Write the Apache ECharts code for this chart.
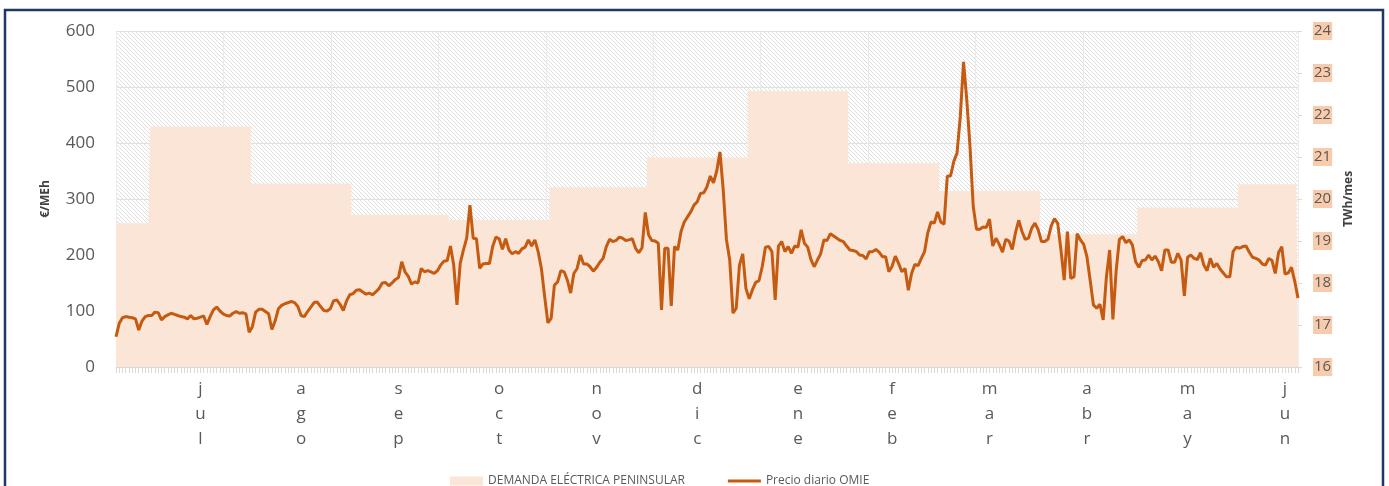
<!DOCTYPE html>
<html>
<head>
<meta charset="utf-8">
<script src="https://cdn.jsdelivr.net/npm/echarts@6/dist/echarts.min.js"></script>
<style>
html, body { margin: 0; padding: 0; background: #fff; }
#chart { width: 1389px; height: 486px; }
</style>
</head>
<body>
<div id="chart"></div>
<script>
// precio diario OMIE (€/MWh), un array por mes, desde el 20/06/2021
var startDate = '2021-06-20';
var priceJun21 = [54, 78, 88, 90, 89, 88, 86, 66, 82, 90, 92];
var priceJul21 = [92, 98, 97, 84, 90, 93, 96, 94, 92, 90, 89, 86, 92, 86, 87, 89, 91, 76, 90, 102, 107, 100, 95, 92, 91, 96, 99, 96, 97, 95, 62];
var priceAgo21 = [72, 98, 103, 103, 99, 95, 67, 82, 104, 110, 113, 115, 117, 115, 108, 92, 90, 99, 107, 115, 116, 108, 101, 100, 104, 118, 120, 112, 101, 118, 129];
var priceSep21 = [131, 137, 138, 134, 130, 132, 129, 134, 140, 150, 151, 145, 150, 156, 160, 188, 170, 162, 148, 152, 150, 176, 170, 172, 170, 167, 172, 182, 189, 190];
var priceOct21 = [216, 182, 111, 185, 209, 230, 289, 230, 229, 176, 184, 185, 185, 215, 232, 229, 210, 229, 209, 202, 206, 203, 211, 214, 227, 216, 227, 206, 176, 126, 79];
var priceNov21 = [87, 146, 152, 172, 170, 155, 132, 167, 176, 200, 184, 184, 179, 171, 178, 187, 194, 215, 228, 224, 226, 232, 230, 226, 227, 229, 212, 204, 213, 276];
var priceDic21 = [236, 226, 225, 221, 102, 212, 212, 109, 215, 209, 242, 259, 268, 277, 289, 295, 310, 311, 322, 341, 329, 350, 384, 316, 227, 191, 96, 105, 182, 202, 140];
var priceEne22 = [122, 138, 151, 154, 179, 214, 215, 206, 120, 216, 224, 206, 215, 203, 216, 214, 245, 221, 214, 192, 179, 191, 202, 227, 226, 238, 234, 230, 226, 224, 216];
var priceFeb22 = [209, 208, 206, 200, 199, 193, 206, 206, 210, 205, 197, 197, 170, 180, 198, 185, 170, 176, 137, 167, 183, 181, 194, 206, 240, 259, 257, 277];
var priceMar22 = [259, 255, 341, 341, 367, 382, 447, 545, 477, 393, 286, 246, 246, 250, 249, 264, 216, 230, 219, 205, 228, 225, 210, 240, 262, 242, 228, 230, 248, 257, 245];
var priceAbr22 = [224, 224, 228, 252, 265, 257, 209, 155, 242, 158, 161, 238, 227, 219, 197, 155, 111, 105, 112, 84, 161, 209, 85, 172, 228, 233, 222, 227, 218, 188];
var priceMay22 = [178, 190, 191, 200, 191, 198, 188, 172, 209, 209, 187, 187, 203, 191, 127, 196, 200, 194, 192, 204, 182, 172, 194, 178, 185, 175, 168, 161, 161, 206, 214];
var priceJun22 = [212, 215, 216, 205, 196, 194, 191, 184, 182, 194, 190, 167, 204, 215, 166, 168, 178, 153, 123];

// demanda eléctrica peninsular mensual (TWh/mes)
var demandMonths = ['2021-06', '2021-07', '2021-08', '2021-09', '2021-10', '2021-11', '2021-12',
                    '2022-01', '2022-02', '2022-03', '2022-04', '2022-05', '2022-06'];
var demandTWh = [19.42, 21.72, 20.37, 19.62, 19.5, 20.28, 20.99, 22.57, 20.86, 20.19, 19.16, 19.8, 20.35];

// etiquetas de mes del eje x
var monthNames = ['ene', 'feb', 'mar', 'abr', 'may', 'jun', 'jul', 'ago', 'sep', 'oct', 'nov', 'dic'];

var prices = [].concat(priceJun21, priceJul21, priceAgo21, priceSep21, priceOct21, priceNov21,
    priceDic21, priceEne22, priceFeb22, priceMar22, priceAbr22, priceMay22, priceJun22);

function pad(n) { return n < 10 ? '0' + n : '' + n; }

// categorias diarias
var days = [];
var d0 = new Date(startDate + 'T00:00:00Z');
for (var i = 0; i < prices.length; i++) {
    var d = new Date(d0.getTime() + i * 86400000);
    days.push(d.getUTCFullYear() + '-' + pad(d.getUTCMonth() + 1) + '-' + pad(d.getUTCDate()));
}

// la demanda mensual se asigna a cada dia de su mes
var demandDaily = days.map(function (s) {
    return demandTWh[demandMonths.indexOf(s.slice(0, 7))];
});

function daysInMonth(s) {
    var y = +s.slice(0, 4), m = +s.slice(5, 7);
    return new Date(Date.UTC(y, m, 0)).getUTCDate();
}
function isLabelDay(s) {
    return +s.slice(8, 10) === Math.ceil(daysInMonth(s) / 2);
}

function hatch() {
    var c = document.createElement('canvas');
    c.width = 4; c.height = 4;
    var ctx = c.getContext('2d');
    ctx.fillStyle = '#ffffff';
    ctx.fillRect(0, 0, 4, 4);
    ctx.strokeStyle = '#dedede';
    ctx.lineWidth = 1;
    ctx.beginPath();
    ctx.moveTo(-1, -1); ctx.lineTo(5, 5);
    ctx.moveTo(-1, 3); ctx.lineTo(1, 5);
    ctx.moveTo(3, -1); ctx.lineTo(5, 1);
    ctx.stroke();
    return c;
}

var myChart = echarts.init(document.getElementById('chart'));
var font = '"Open Sans", "Liberation Sans", sans-serif';

var option = {
    animation: false,
    textStyle: { fontFamily: font },
    grid: {
        left: 116, right: 91, top: 31, bottom: 119,
        show: true,
        borderWidth: 0,
        backgroundColor: { image: hatch(), repeat: 'repeat' }
    },
    graphic: [{
        type: 'rect',
        shape: { x: 5, y: 10, width: 1378, height: 490 },
        style: { fill: 'none', stroke: '#203864', lineWidth: 2.5 }
    }],
    legend: {
        left: 445, top: 470,
        itemWidth: 33, itemHeight: 9, itemGap: 43,
        textStyle: { fontSize: 12, color: '#595959', fontFamily: font },
        data: [
            { name: 'DEMANDA ELÉCTRICA PENINSULAR', icon: 'rect' },
            { name: 'Precio diario OMIE', icon: 'path://M0,0h33v3h-33z' }
        ]
    },
    xAxis: [{
        type: 'category',
        boundaryGap: false,
        data: days,
        axisLine: { lineStyle: { color: '#d9d9d9' } },
        axisTick: { show: true, interval: 0, length: 6, lineStyle: { color: '#d9d9d9' } },
        axisLabel: {
            interval: function (idx, val) { return isLabelDay(val); },
            formatter: function (val) {
                return monthNames[+val.slice(5, 7) - 1].split('').join('\n');
            },
            fontSize: 17, lineHeight: 25, color: '#595959', margin: 10
        },
        splitLine: { show: false }
    }, {
        type: 'value',
        min: 0, max: 11, interval: 1,
        position: 'top',
        axisLine: { show: false },
        axisTick: { show: false },
        axisLabel: { show: false },
        splitLine: { show: true, lineStyle: { color: '#ebebeb', width: 1 } }
    }],
    yAxis: [{
        type: 'value',
        min: 0, max: 600, interval: 100,
        name: '€/MEh',
        nameLocation: 'middle',
        nameGap: 64,
        nameRotate: 90,
        nameTextStyle: { fontSize: 12, fontWeight: 'bold', color: '#404040' },
        axisLine: { show: true, lineStyle: { color: '#eeeeee', type: 'dashed' } },
        axisTick: { show: false },
        axisLabel: { fontSize: 17, color: '#595959', margin: 21 },
        splitLine: { lineStyle: { color: '#e0e0e0' } }
    }, {
        type: 'value',
        min: 16, max: 24, interval: 1,
        name: 'TWh/mes',
        nameLocation: 'middle',
        nameGap: 44,
        nameRotate: 90,
        nameTextStyle: { fontSize: 12, fontWeight: 'bold', color: '#404040' },
        axisLine: { show: true, lineStyle: { color: '#eeeeee', type: 'dashed' } },
        axisTick: { show: true, length: 4, lineStyle: { color: '#f6d3bd' } },
        axisLabel: {
            fontSize: 15, color: '#595959', margin: 15,
            backgroundColor: '#F8CBAD', padding: [2, 1, 1, 1]
        },
        splitLine: { show: false }
    }],
    series: [{
        name: 'DEMANDA ELÉCTRICA PENINSULAR',
        type: 'line',
        yAxisIndex: 1,
        data: demandDaily,
        step: 'middle',
        symbol: 'none',
        lineStyle: { width: 0, color: '#FBE5D6' },
        itemStyle: { color: '#FBE5D6' },
        areaStyle: { color: '#FBE5D6', opacity: 1 }
    }, {
        name: 'Precio diario OMIE',
        type: 'line',
        yAxisIndex: 0,
        data: prices,
        symbol: 'none',
        lineStyle: { width: 3, color: '#C55A11' },
        itemStyle: { color: '#C55A11' }
    }]
};

myChart.setOption(option);
</script>
</body>
</html>
